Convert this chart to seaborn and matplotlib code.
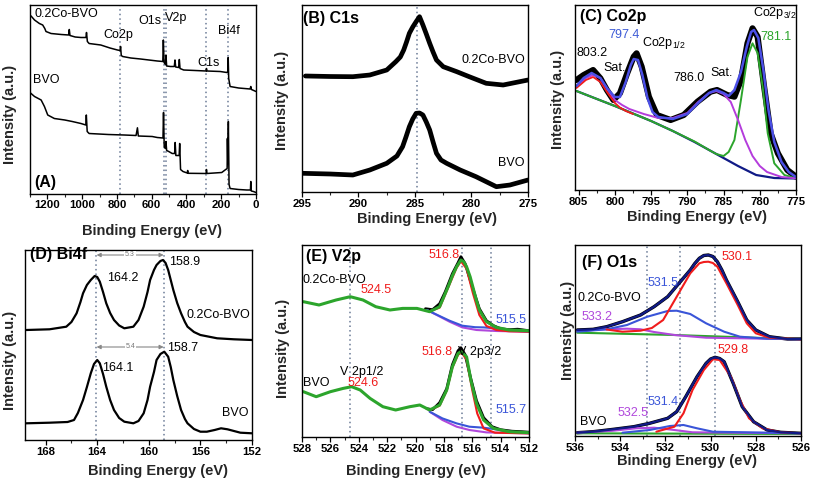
import matplotlib
matplotlib.use("Agg")
import matplotlib.pyplot as plt
from matplotlib.ticker import MultipleLocator
import numpy as np
import seaborn as sns

# ---------------- data (eV, height above axis in px) -----
# (A) survey
A_top_ev = [1300, 1294, 1274, 1246, 1227, 1215, 1208, 1179, 1120, 1078, 1074, 1070, 1040, 1007,
            978, 975, 970, 960, 893, 840, 797, 782, 779, 775, 767, 720, 664, 568, 536, 533, 529,
            521, 518, 514, 492, 470, 466, 462, 445, 441, 437, 416, 350, 287, 285, 282, 206, 168,
            162, 160, 157, 149, 100, 34, 30, 26, 0]
A_top_h = [178, 177.5, 173.5, 170, 168.5, 165, 162, 160, 159, 158.5, 164, 158, 156.5, 156,
           156, 161, 152, 150, 148.5, 145.5, 143.5, 143, 147, 138, 137, 135.5, 134.5, 132.5, 132, 153.5, 131,
           129, 138.5, 127.5, 127, 127, 133.5, 126.5, 126, 134, 125, 123.5, 123, 122.5, 125, 122.5, 122, 121,
           122, 136, 115, 107, 105.5, 104.5, 107, 104, 102]
A_bot_ev = [1300, 1294, 1274, 1236, 1217, 1198, 1160, 1100, 1057, 1007, 979, 976, 971, 960, 850,
            759, 690, 682, 677, 597, 568, 535, 532, 528, 521, 518, 514, 502, 482, 468, 465, 461,
            442, 439, 434, 420, 396, 393, 390, 287, 285, 282, 197, 178, 166, 164.5, 162, 159, 155,
            149, 100, 53, 32, 30, 27, 15, 0]
A_bot_h = [101, 100, 97, 93.5, 87, 78.5, 75, 73.5, 72, 70, 68.5, 78.5, 62, 60, 59,
           58.5, 58, 65.7, 57.5, 57, 56, 55.5, 81, 47, 45, 52, 43, 42, 40, 40, 51, 38,
           38, 50, 24, 22, 20.5, 23, 20.2, 20, 24, 20, 21, 23.5, 25, 55, 30, 72, 9,
           5, 4, 3.5, 3.5, 12, 2.5, 2, 1]
A_lines = [780, 530, 517, 285, 159]

# (B) C1s
B_top_ev = [294.7, 292.5, 290.5, 289.0, 287.5, 286.7, 286.3, 286.0, 285.75, 285.5, 285.2, 284.9,
            284.6, 284.3, 284.0, 283.7, 283.4, 283.1, 282.5, 281.3, 280.2, 278.7, 277.2, 275.0]
B_top_h = [116, 115.5, 115.3, 117, 122, 130.3, 135, 142, 150, 158.7, 165, 170.3,
           175.3, 167, 158, 148.7, 140, 132, 125.3, 120.3, 115.3, 108.7, 107, 112]
B_bot_ev = [295.0, 292.5, 290.5, 289.0, 287.5, 286.6, 286.1, 285.8, 285.5, 285.2, 284.9, 284.6,
            284.3, 284.0, 283.7, 283.4, 283.1, 282.7, 282.2, 281.0, 279.6, 277.8, 276.6, 275.0]
B_bot_h = [18.7, 18, 17, 22, 28.7, 36, 45.3, 55, 65.3, 73, 78.7, 79,
           77, 70, 62, 50, 38.7, 32, 28.7, 22, 15.3, 5.3, 7, 12]

# (C) Co2p
C_data_ev = [805.3, 804.3, 803.0, 802.0, 801.1, 800.2, 799.3, 798.3, 797.4, 797.0, 796.3, 795.3,
             794.2, 792.3, 790.5, 788.6, 786.8, 785.9, 784.5, 783.5, 782.6, 781.7, 781.0, 780.3,
             779.4, 778.5, 777.5, 776.2, 775.0]
C_data_h = [110, 115, 120, 111.7, 100, 90, 96.7, 116.7, 133.3, 136.7, 123.3, 93.3,
            75, 70, 75, 88.3, 98.3, 100, 95, 93.3, 110, 146.7, 161.7, 153.3,
            103.3, 56.7, 36.7, 20, 13.3]
C_env_ev = [805.3, 804.3, 803.2, 802.0, 801.0, 800.0, 799.3, 798.5, 797.8, 797.4, 796.8, 796.2,
            795.5, 794.8, 794.0, 792.0, 790.0, 788.5, 787.0, 786.0, 785.0, 784.3, 783.5, 782.6,
            781.8, 781.2, 780.8, 780.2, 779.5, 778.8, 778.0, 777.0, 776.0, 775.0]
C_env_h = [104, 112, 117, 112, 101, 93, 93, 108, 125, 131, 130, 115,
           92, 78, 73, 71, 76, 87, 97, 100, 97, 94, 100, 118,
           143, 158, 160, 152, 120, 80, 48, 28, 18, 13]
C_bkg_ev = [805.3, 800.0, 795.0, 792.0, 789.0, 786.0, 783.0, 780.5, 778.0, 775.0]
C_bkg_h = [99, 84, 69, 59, 48, 36, 24, 15, 12, 11.5]
C_main_ev = [805.3, 800.0, 795.0, 792.0, 789.0, 787.0, 786.0, 785.0, 784.3, 783.5, 782.6, 781.7,
             781.0, 780.3, 779.6, 778.9, 778.0, 776.6, 775.0]
C_main_h = [99, 84, 69, 59, 48.5, 40, 36, 34, 38, 50, 90, 133,
            146.7, 137, 103, 56.7, 26.7, 15, 11.7]
C_sat_ev = [805.3, 804.0, 803.0, 802.0, 801.0, 800.0, 799.0, 798.0, 796.0, 794.0, 792.0, 790.0,
            788.5, 787.0, 786.0, 785.0, 784.0, 783.0, 782.0, 781.0, 780.0, 779.0, 777.0, 775.0]
C_sat_h = [104, 112, 115, 112, 100, 90, 85, 81, 76, 72, 72, 77,
           88, 97, 99, 96, 88, 70, 50, 34, 24, 18, 13, 11.7]
C_red_ev = [805.3, 804.0, 803.0, 802.0, 801.0, 800.0, 799.3, 798.5, 797.5]
C_red_h = [102, 110, 113, 108, 97, 87, 82.5, 79, 76]

# (D) Bi4f
D_top_ev = [169.5, 167.7, 166.4, 166.0, 165.6, 165.3, 165.1, 164.8, 164.5, 164.2, 164.0, 163.8,
            163.55, 163.3, 163.0, 162.7, 162.3, 161.9, 161.2, 160.8, 160.4, 160.1, 159.9, 159.6,
            159.4, 159.1, 158.9, 158.7, 158.5, 158.3, 158.1, 157.8, 157.5, 157.2, 157.0, 156.5,
            156.0, 154.7, 153.4, 152.0]
D_top_h = [110, 110.7, 113.3, 118, 126.7, 138, 146.7, 155, 160, 164, 163, 158.3,
           148, 136.7, 127, 120, 114.5, 111.7, 113.3, 120, 133.3, 148, 160, 170,
           175, 179, 180, 177, 170, 160, 150, 137, 126.7, 118, 113.3, 108,
           105, 101.7, 100.7, 100]
D_bot_ev = [169.5, 167.7, 166.3, 165.8, 165.5, 165.1, 164.8, 164.5, 164.25, 164.0, 163.8, 163.55,
            163.3, 163.0, 162.7, 162.3, 161.9, 161.2, 160.8, 160.4, 160.1, 159.9, 159.6, 159.4,
            159.1, 158.8, 158.5, 158.3, 158.1, 157.8, 157.5, 157.2, 157.0, 156.5, 156.0, 155.5,
            154.9, 154.4, 153.9, 152.9, 152.0]
D_bot_h = [16.7, 17.3, 18, 20, 27, 40, 53, 66.7, 76, 80, 76.7, 66,
           53.3, 40, 30, 22, 18.3, 16.7, 19, 26.7, 40, 53.3, 68, 80,
           86, 88.3, 83.3, 73, 60, 44, 30, 21, 16.7, 11, 8.3, 8.3,
           10, 11.7, 10.7, 7.3, 6.7]

# (E) V2p
E_top_ev = [527.9, 526.8, 525.6, 524.6, 523.7, 522.8, 521.8, 520.9, 519.9, 519.0, 518.3, 517.7,
            517.4, 517.1, 516.8, 516.6, 516.4, 516.15, 515.9, 515.7, 515.5, 515.0, 514.3, 513.4, 512.0]
E_top_h = [135, 131.7, 136.7, 140, 136.7, 130, 126.7, 128.3, 128.3, 125, 130, 150,
           161, 170, 176.7, 175, 170, 160, 146.7, 136, 126.7, 115, 109.3, 106.7, 106]
E_top_dat_ev = [519.3, 518.8, 518.3, 517.9, 517.4, 517.0, 516.8, 516.5, 516.0, 515.5, 515.0, 514.5,
                514.0, 513.4, 512.8, 512.0]
E_top_dat_h = [128, 127, 133, 145, 163, 174, 180, 173, 150, 128, 116, 111,
               108, 107, 107.5, 106]
E_top_pur_ev = [519.2, 518.5, 517.6, 516.7, 515.7, 514.3, 512.0]
E_top_pur_h = [126.7, 121.7, 115, 109.3, 106.7, 105.7, 105]
E_top_blu_ev = [519.2, 518.5, 517.6, 516.7, 515.8, 515.2, 514.3, 513.4, 512.0]
E_top_blu_h = [126.7, 122, 116, 111, 109.5, 109.3, 108.3, 106.3, 105]
E_top_red_ev = [519.0, 518.3, 517.7, 517.1, 516.8, 516.4, 515.95, 515.5, 515.0, 514.3, 513.4, 512.0]
E_top_red_h = [125.5, 129, 149, 169, 175.5, 168, 143.3, 121.7, 110.7, 106.7, 105.4, 105]
E_bot_ev = [527.9, 527.0, 526.0, 525.1, 524.5, 523.9, 523.2, 522.3, 521.4, 520.4, 519.7, 519.0,
            518.3, 517.8, 517.4, 517.0, 516.8, 516.4, 516.1, 515.7, 515.2, 514.5, 513.4, 512.0]
E_bot_h = [45, 40, 45, 48.3, 50, 46.7, 38.3, 30, 26.7, 30, 31.7, 26.7,
           31.7, 46.7, 70, 83.3, 85, 80, 56.7, 33.3, 16.7, 8.3, 5, 4]
E_bot_dat_ev = [519.2, 518.8, 518.3, 517.8, 517.4, 517.0, 516.8, 516.5, 516.1, 515.7, 515.2, 514.6,
                514.0, 513.2, 512.5, 512.0]
E_bot_dat_h = [28, 27, 34, 48, 72, 86, 89, 82, 58, 36, 19, 10,
               7, 5.5, 5, 4.5]
E_bot_pur_ev = [519.0, 518.1, 517.1, 516.2, 515.0, 512.0]
E_bot_pur_h = [25, 16.7, 10, 6.7, 4.3, 3.3]
E_bot_blu_ev = [519.0, 518.1, 517.1, 516.2, 515.2, 514.3, 513.4, 512.0]
E_bot_blu_h = [25, 18.3, 13.3, 10, 9, 7.3, 5, 4]
E_bot_red_ev = [519.0, 518.3, 517.8, 517.4, 517.0, 516.75, 516.4, 516.0, 515.65, 515.2, 514.4, 512.0]
E_bot_red_h = [26.5, 31, 46, 69, 82, 84, 77, 46.7, 23.3, 8.3, 4, 3.3]
E_lines = [524.6, 516.7, 514.7]

# (F) O1s
F_top_ev = [535.9, 535.2, 534.6, 533.9, 533.1, 532.5, 531.9, 531.4, 530.9, 530.7, 530.5, 530.3,
            530.1, 529.9, 529.7, 529.5, 529.3, 528.8, 528.4, 528.0, 527.4, 526.6, 526.0]
F_top_h = [106, 106.7, 109.3, 114.3, 121, 129.3, 139.3, 152.7, 166, 172.5, 177.7, 180.5,
           181, 179.5, 174.3, 166, 156, 134.3, 116, 106, 99.3, 97, 97]
F_top_red_ev = [534.6, 533.9, 533.1, 532.6, 532.1, 531.5, 530.9, 530.5, 530.3, 530.1, 529.9, 529.7,
                529.3, 528.8, 528.4, 528.0, 527.4, 526.0]
F_top_red_h = [106.5, 104.3, 105.3, 108, 116, 139.3, 162.7, 172.7, 174, 174.3, 173, 169.3,
               152.7, 131, 112.7, 102.7, 98.3, 96.7]
F_top_blu_ev = [535.9, 534.6, 533.7, 532.8, 531.9, 531.5, 530.9, 530.2, 529.4, 528.7, 527.5, 526.0]
F_top_blu_h = [104.3, 106.7, 111, 119.3, 125, 125.3, 122, 112.7, 104.3, 99.3, 97.3, 96.7]
F_top_pur_ev = [535.9, 534.6, 533.7, 533.1, 532.5, 531.6, 530.2, 526.0]
F_top_pur_h = [105.3, 106.7, 107.3, 106.7, 104, 101, 98.3, 96.7]
F_top_grn_ev = [535.9, 531.6, 526.0]
F_top_grn_h = [103.3, 101, 96.7]
F_bot_ev = [535.9, 535.2, 534.3, 533.4, 532.7, 531.9, 531.5, 531.1, 530.6, 530.2, 530.0, 529.8,
            529.6, 529.4, 529.0, 528.6, 528.1, 527.5, 526.9, 526.0]
F_bot_h = [3.3, 4.3, 6.7, 9.3, 12.7, 17.7, 24.3, 39.3, 59.3, 72.7, 77, 78.7,
           77.5, 74.3, 52.7, 29.3, 14.3, 6, 3.7, 2.7]
F_bot_red_ev = [532.4, 531.6, 531.2, 530.8, 530.3, 529.9, 529.6, 529.1, 528.7, 528.3, 527.7, 526.9, 526.0]
F_bot_red_h = [4.3, 9.3, 22.7, 46, 66, 76.7, 76, 59.3, 36, 17.7, 7.7, 3.7, 2.7]
F_bot_blu_ev = [533.9, 532.7, 531.8, 531.2, 530.6, 529.9, 526.0]
F_bot_blu_h = [3.3, 6, 10, 11, 7.7, 4.3, 2.7]
F_bot_pur_ev = [535.9, 534.3, 533.3, 532.5, 531.6, 530.8, 526.0]
F_bot_pur_h = [3.3, 5.3, 7.7, 8.3, 6, 3.7, 2.7]
F_bot_grn_ev = [535.9, 526.0]
F_bot_grn_h = [2.7, 2.0]
F_lines = [532.8, 531.35, 529.8]

# ---------------- style --------------------------------------------------------
sns.set_theme(style="ticks")
plt.rcParams['font.family'] = ['Liberation Sans', 'DejaVu Sans']
plt.rcParams['font.weight'] = 'bold'
plt.rcParams['mathtext.fontset'] = 'custom'
plt.rcParams['mathtext.rm'] = 'Liberation Sans'
plt.rcParams['mathtext.default'] = 'regular'

W, H = 813, 483
fig = plt.figure(figsize=(W / 100, H / 100), dpi=100)

DOT = '#6a7a96'
RED, BLUE, PURP, GRN, NAVY = '#f01c1c', '#3a55d8', '#b048dc', '#2ca52c', '#101a86'


def panel(box, xlim, major, minor, xlab_xy, ylab_xy):
    l, t, r, b = box
    ax = fig.add_axes([l / W, 1 - b / H, (r - l) / W, (b - t) / H])
    ax.set_xlim(*xlim)
    ax.set_ylim(0, b - t)
    lo, hi = min(xlim), max(xlim)
    ticks = np.arange(np.ceil(lo / major) * major, hi + 1e-9, major)
    ax.set_xticks(ticks, ['%g' % v for v in ticks], fontweight='bold', fontsize=8.2)
    ax.xaxis.set_minor_locator(MultipleLocator(minor))
    ax.set_xlim(*xlim)
    ax.set_yticks([])
    ax.tick_params(axis='x', which='major', direction='out', length=3.5, width=0.9,
                   pad=1.5, colors='black')
    ax.tick_params(axis='x', which='minor', direction='out', length=2, width=0.8)
    for s in ax.spines.values():
        s.set_color('black')
        s.set_linewidth(1.0)
    fig.text(xlab_xy[0] / W, 1 - xlab_xy[1] / H, 'Binding Energy (eV)', ha='center',
             va='center', fontsize=10.5)
    fig.text(ylab_xy[0] / W, 1 - ylab_xy[1] / H, 'Intensity (a.u.)', ha='center',
             va='center', rotation=90, fontsize=10.5)
    return ax


def line(ax, x, y, color='black', lw=1.2):
    sns.lineplot(x=x, y=y, ax=ax, color=color, lw=lw, estimator=None, sort=False,
                 legend=False, solid_joinstyle='round')


def vlines(ax, xs):
    for v in xs:
        ax.axvline(v, color=DOT, ls=(0, (1, 2)), lw=1.1, zorder=0)


def note(ax, x, y, s, color='black', ha='left', size=9, weight='normal'):
    ax.text(x, y, s, color=color, ha=ha, va='center', fontsize=size, fontweight=weight)


# (A)
ax = panel((30, 5, 256, 193.5), (1300, 0), 200, 100, (152, 231), (10, 114))
vlines(ax, A_lines)
line(ax, A_top_ev, A_top_h, lw=1.1)
line(ax, A_bot_ev, A_bot_h, lw=1.1)
note(ax, 1276, 179.5, '0.2Co-BVO')
note(ax, 876, 158.5, 'Co2p')
note(ax, 675, 172, 'O1s')
note(ax, 521, 175, 'V2p')
note(ax, 338, 130.5, 'C1s')
note(ax, 217, 162, 'Bi4f')
note(ax, 1282, 113.5, 'BVO')
note(ax, 1276, 11, '(A)', size=11.5, weight='bold')

# (B)
ax = panel((302, 5, 528, 192), (295, 275), 5, 2.5, (427, 219), (282, 100))
vlines(ax, [284.8])
line(ax, B_top_ev, B_top_h, lw=3.4)
line(ax, B_bot_ev, B_bot_h, lw=3.4)
note(ax, 294.9, 174, '(B) C1s', size=11.5, weight='bold')
note(ax, 275.2, 132, '0.2Co-BVO', ha='right')
note(ax, 275.3, 28.7, 'BVO', ha='right')

# (C)
ax = panel((575, 5, 796, 190), (805.5, 775), 5, 2.5, (697, 217), (558, 99))
line(ax, C_data_ev, C_data_h, lw=4.4)
line(ax, C_bkg_ev, C_bkg_h, color=NAVY, lw=1.6)
line(ax, C_main_ev, C_main_h, color=GRN, lw=1.4)
line(ax, C_sat_ev, C_sat_h, color='#b43cdc', lw=1.4)
line(ax, C_red_ev, C_red_h, color=RED, lw=1.3)
line(ax, C_env_ev, C_env_h, color='#4b4fe6', lw=1.8)
note(ax, 804.8, 174, '(C) Co2p', size=11.5, weight='bold')
note(ax, 803.1, 137, '803.2', ha='center')
note(ax, 801.6, 122, 'Sat.')
note(ax, 800.9, 155, '797.4', color='#3c5ad6')
note(ax, 796.2, 147, 'Co2p$_{1/2}$')
note(ax, 791.9, 112, '786.0')
note(ax, 786.8, 117, 'Sat.')
note(ax, 781.0, 177, 'Co2p$_{3/2}$')
note(ax, 779.9, 153, '781.1', color=GRN)

# (D)
ax = panel((25, 250, 252, 440), (169.6, 152), 4, 2, (158, 471), (10, 360))
vlines(ax, [164.1, 158.8])
line(ax, D_top_ev, D_top_h, lw=1.6)
line(ax, D_bot_ev, D_bot_h, lw=1.6)
for yy, lab in [(185, '5.3'), (93, '5.4')]:
    ax.annotate('', xy=(158.85, yy), xytext=(164.05, yy),
                arrowprops=dict(arrowstyle='<|-|>', color='#888888', lw=0.8,
                                mutation_scale=6, shrinkA=0, shrinkB=0))
    ax.text(161.45, yy, lab, fontsize=5, color='#777777', ha='center', va='center',
            fontweight='normal', bbox=dict(facecolor='white', edgecolor='none', pad=0.5))
note(ax, 169.2, 185, '(D) Bi4f', size=11.5, weight='bold')
note(ax, 163.2, 162, '164.2')
note(ax, 158.4, 178.3, '158.9')
note(ax, 152.1, 125, '0.2Co-BVO', ha='right')
note(ax, 163.6, 72, '164.1')
note(ax, 158.6, 92, '158.7')
note(ax, 152.3, 27, 'BVO', ha='right')

# (E)
ax = panel((302, 245, 529, 436.7), (528, 512), 2, 1, (416, 471), (283, 348))
vlines(ax, E_lines)
for ev, h in [(E_top_dat_ev, E_top_dat_h), (E_bot_dat_ev, E_bot_dat_h)]:
    line(ax, ev, h, lw=2.0)
line(ax, E_top_pur_ev, E_top_pur_h, color=PURP, lw=1.5)
line(ax, E_top_blu_ev, E_top_blu_h, color=BLUE, lw=1.5)
line(ax, E_top_red_ev, E_top_red_h, color=RED, lw=1.5)
line(ax, E_top_ev, E_top_h, color=GRN, lw=2.2)
line(ax, E_bot_pur_ev, E_bot_pur_h, color=PURP, lw=1.5)
line(ax, E_bot_blu_ev, E_bot_blu_h, color=BLUE, lw=1.5)
line(ax, E_bot_red_ev, E_bot_red_h, color=RED, lw=1.5)
line(ax, E_bot_ev, E_bot_h, color=GRN, lw=2.2)
note(ax, 527.7, 180, '(E) V2p', size=11.5, weight='bold')
note(ax, 518.0, 181.7, '516.8', color=RED, ha='center')
note(ax, 527.95, 156.7, '0.2Co-BVO')
note(ax, 523.9, 146.7, '524.5', color=RED)
note(ax, 512.2, 116.7, '515.5', color=BLUE, ha='right')
note(ax, 519.6, 84.7, '516.8', color=RED)
note(ax, 517.0, 84.7, 'V 2p3/2')
note(ax, 525.3, 64.7, 'V 2p1/2')
note(ax, 527.95, 53.7, 'BVO')
note(ax, 524.8, 53.7, '524.6', color=RED)
note(ax, 512.2, 26.7, '515.7', color=BLUE, ha='right')

# (F)
ax = panel((575, 245, 801, 436), (536, 526), 2, 1, (687, 461), (568, 330))
vlines(ax, F_lines)
line(ax, F_top_ev, F_top_h, lw=2.4)
line(ax, F_bot_ev, F_bot_h, lw=2.4)
for ev, h, c in [(F_top_grn_ev, F_top_grn_h, GRN), (F_top_pur_ev, F_top_pur_h, PURP),
                 (F_top_blu_ev, F_top_blu_h, BLUE), (F_top_red_ev, F_top_red_h, RED),
                 (F_bot_grn_ev, F_bot_grn_h, GRN), (F_bot_pur_ev, F_bot_pur_h, PURP),
                 (F_bot_blu_ev, F_bot_blu_h, BLUE), (F_bot_red_ev, F_bot_red_h, RED)]:
    line(ax, ev, h, color=c, lw=1.5)
line(ax, F_top_ev, F_top_h, color=NAVY, lw=1.6)
line(ax, F_bot_ev, F_bot_h, color=NAVY, lw=1.6)
note(ax, 535.7, 174, '(F) O1s', size=11.5, weight='bold')
note(ax, 529.5, 179, '530.1', color=RED)
note(ax, 532.8, 153, '531.5', color=BLUE)
note(ax, 535.9, 138, '0.2Co-BVO')
note(ax, 535.7, 119, '533.2', color=PURP)
note(ax, 529.7, 86, '529.8', color=RED)
note(ax, 532.8, 34, '531.4', color=BLUE)
note(ax, 534.1, 23, '532.5', color=PURP)
note(ax, 535.8, 14, 'BVO')

fig.savefig('out.png', dpi=100)
